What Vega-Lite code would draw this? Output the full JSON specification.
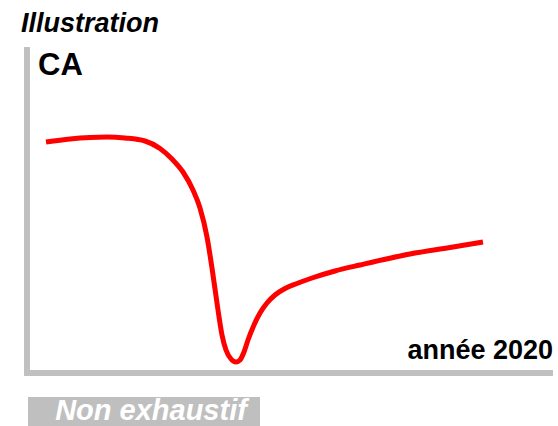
{
  "$schema": "https://vega.github.io/schema/vega-lite/v6.json",
  "width": 558,
  "height": 426,
  "autosize": {"type": "fit", "contains": "padding"},
  "padding": 0,
  "background": "white",
  "config": {"view": {"stroke": null}},
  "datasets": {
    "curve": [
      {"t": 46, "ca": 284}, {"t": 70, "ca": 287}, {"t": 90, "ca": 288.5}, {"t": 107, "ca": 289},
      {"t": 125, "ca": 288}, {"t": 145, "ca": 285}, {"t": 160, "ca": 277.5}, {"t": 172, "ca": 267},
      {"t": 183, "ca": 254}, {"t": 193, "ca": 236}, {"t": 200, "ca": 218}, {"t": 207, "ca": 189},
      {"t": 212, "ca": 158}, {"t": 218, "ca": 116}, {"t": 222, "ca": 91}, {"t": 226, "ca": 76},
      {"t": 231, "ca": 67}, {"t": 236, "ca": 64}, {"t": 240, "ca": 66}, {"t": 244, "ca": 74},
      {"t": 248, "ca": 86}, {"t": 254, "ca": 101}, {"t": 260, "ca": 113}, {"t": 267, "ca": 123},
      {"t": 275, "ca": 131}, {"t": 285, "ca": 137.5}, {"t": 297, "ca": 142.5}, {"t": 312, "ca": 148},
      {"t": 335, "ca": 155}, {"t": 360, "ca": 161}, {"t": 410, "ca": 172}, {"t": 450, "ca": 178.5},
      {"t": 483, "ca": 184}
    ]
  },
  "encoding": {
    "x": {"type": "quantitative", "scale": {"domain": [0, 558], "nice": false, "zero": false}, "axis": null},
    "y": {"type": "quantitative", "scale": {"domain": [0, 426], "nice": false, "zero": false}, "axis": null}
  },
  "layer": [
    {
      "data": {"values": [{"x0": 28, "x1": 260, "y0": 0, "y1": 29}]},
      "mark": {"type": "rect", "color": "#BFBFBF"},
      "encoding": {
        "x": {"field": "x0", "type": "quantitative"}, "x2": {"field": "x1"},
        "y": {"field": "y0", "type": "quantitative"}, "y2": {"field": "y1"}
      }
    },
    {
      "data": {"values": [{"x0": 27, "x1": 27, "y0": 50, "y1": 379}, {"x0": 24, "x1": 553, "y0": 53, "y1": 53}]},
      "mark": {"type": "rule", "color": "#C0C0C0", "strokeWidth": 6},
      "encoding": {
        "x": {"field": "x0", "type": "quantitative"}, "x2": {"field": "x1"},
        "y": {"field": "y0", "type": "quantitative"}, "y2": {"field": "y1"}
      }
    },
    {
      "data": {"name": "curve"},
      "mark": {"type": "line", "color": "#FF0000", "strokeWidth": 5, "interpolate": "monotone", "strokeCap": "butt"},
      "encoding": {
        "x": {"field": "t", "type": "quantitative"},
        "y": {"field": "ca", "type": "quantitative"}
      }
    },
    {
      "data": {"values": [{"label": "Illustration", "x": 21, "y": 394}]},
      "mark": {"type": "text", "align": "left", "baseline": "alphabetic", "font": "Liberation Sans", "fontSize": 27, "fontWeight": "bold", "fontStyle": "italic", "color": "black"},
      "encoding": {"x": {"field": "x", "type": "quantitative"}, "y": {"field": "y", "type": "quantitative"}, "text": {"field": "label"}}
    },
    {
      "data": {"values": [{"label": "CA", "x": 38, "y": 351}]},
      "mark": {"type": "text", "align": "left", "baseline": "alphabetic", "font": "Liberation Sans", "fontSize": 31, "fontWeight": "bold", "color": "black"},
      "encoding": {"x": {"field": "x", "type": "quantitative"}, "y": {"field": "y", "type": "quantitative"}, "text": {"field": "label"}}
    },
    {
      "data": {"values": [{"label": "année 2020", "x": 553, "y": 67}]},
      "mark": {"type": "text", "align": "right", "baseline": "alphabetic", "font": "Liberation Sans", "fontSize": 27, "fontWeight": "bold", "color": "black"},
      "encoding": {"x": {"field": "x", "type": "quantitative"}, "y": {"field": "y", "type": "quantitative"}, "text": {"field": "label"}}
    },
    {
      "data": {"values": [{"label": "Non exhaustif", "x": 151, "y": 6}]},
      "mark": {"type": "text", "align": "center", "baseline": "alphabetic", "font": "Liberation Sans", "fontSize": 29, "fontWeight": "bold", "fontStyle": "italic", "color": "white"},
      "encoding": {"x": {"field": "x", "type": "quantitative"}, "y": {"field": "y", "type": "quantitative"}, "text": {"field": "label"}}
    }
  ]
}
